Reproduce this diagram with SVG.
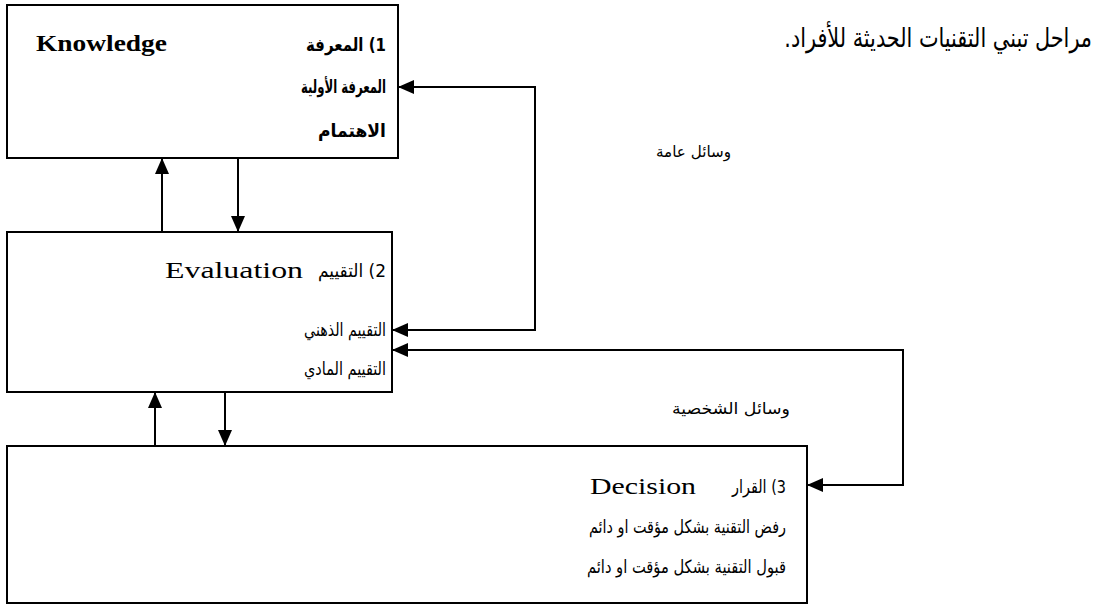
<svg xmlns="http://www.w3.org/2000/svg" width="1100" height="607" viewBox="0 0 1100 607">
<defs>
<marker id="ah" viewBox="0 0 16 14" refX="16" refY="7" markerWidth="16" markerHeight="14" markerUnits="userSpaceOnUse" orient="auto">
<path d="M0,0 L16,7 L0,14 z" fill="#000"/>
</marker>
</defs>
<style>
.box{fill:#fff;stroke:#000;stroke-width:2}
.ar{font-family:"DejaVu Sans","Liberation Serif",serif;font-size:18px;fill:#000;direction:rtl;text-anchor:start}
.b{font-weight:bold}
.en{font-family:"Liberation Serif",serif;font-size:23px;fill:#000}
.lbl{font-family:"DejaVu Sans",serif;font-size:16px;fill:#000;direction:rtl;text-anchor:start}
.title{font-family:"DejaVu Sans","Liberation Sans",sans-serif;font-size:27px;fill:#000;direction:rtl;text-anchor:start}
.cn{fill:none;stroke:#000;stroke-width:2}
</style>
<rect width="1100" height="607" fill="#fff"/>
<text class="title" transform="translate(1092,47) scale(0.77,1)" x="0" y="0">مراحل تبني التقنيات الحديثة للأفراد.</text>
<g id="knowledge">
<rect class="box" x="7" y="5" width="391" height="153"/>
<text class="en b" x="36" y="51" textLength="131" lengthAdjust="spacingAndGlyphs">Knowledge</text>
<text class="ar b" x="386" y="51" textLength="80" lengthAdjust="spacingAndGlyphs">1) المعرفة</text>
<text class="ar b" x="386" y="93" textLength="85" lengthAdjust="spacingAndGlyphs">المعرفة الأولية</text>
<text class="ar b" x="386" y="137" textLength="68" lengthAdjust="spacingAndGlyphs">الاهتمام</text>
</g>
<g id="evaluation">
<rect class="box" x="7" y="232" width="385" height="160"/>
<text class="ar" x="386" y="277" textLength="68" lengthAdjust="spacingAndGlyphs">2) التقييم</text>
<text class="en" x="165" y="278" textLength="138" lengthAdjust="spacingAndGlyphs">Evaluation</text>
<text class="ar" x="386" y="336" textLength="82" lengthAdjust="spacingAndGlyphs">التقييم الذهني</text>
<text class="ar" x="386" y="375" textLength="82" lengthAdjust="spacingAndGlyphs">التقييم المادي</text>
</g>
<g id="decision">
<rect class="box" x="7" y="446" width="800" height="157"/>
<text class="ar" x="786" y="493" textLength="54" lengthAdjust="spacingAndGlyphs">3) القرار</text>
<text class="en" x="590" y="494" textLength="106" lengthAdjust="spacingAndGlyphs">Decision</text>
<text class="ar" x="786" y="533" textLength="197" lengthAdjust="spacingAndGlyphs">رفض التقنية بشكل مؤقت او دائم</text>
<text class="ar" x="786" y="573" textLength="199" lengthAdjust="spacingAndGlyphs">قبول التقنية بشكل مؤقت او دائم</text>
</g>
<g id="connectors">
<line class="cn" x1="162" y1="232" x2="162" y2="158" marker-end="url(#ah)"/>
<line class="cn" x1="238" y1="158" x2="238" y2="232" marker-end="url(#ah)"/>
<line class="cn" x1="155" y1="446" x2="155" y2="392" marker-end="url(#ah)"/>
<line class="cn" x1="225" y1="392" x2="225" y2="446" marker-end="url(#ah)"/>
<polyline class="cn" points="535,330 535,87 398,87" marker-end="url(#ah)"/>
<polyline class="cn" points="535,87 535,330 392,330" marker-end="url(#ah)"/>
<polyline class="cn" points="903,485 903,350 392,350" marker-end="url(#ah)"/>
<polyline class="cn" points="903,350 903,485 807,485" marker-end="url(#ah)"/>
<text class="lbl" x="731" y="157" textLength="75" lengthAdjust="spacingAndGlyphs">وسائل عامة</text>
<text class="lbl" x="790" y="414" textLength="118" lengthAdjust="spacingAndGlyphs">وسائل الشخصية</text>
</g>
</svg>
